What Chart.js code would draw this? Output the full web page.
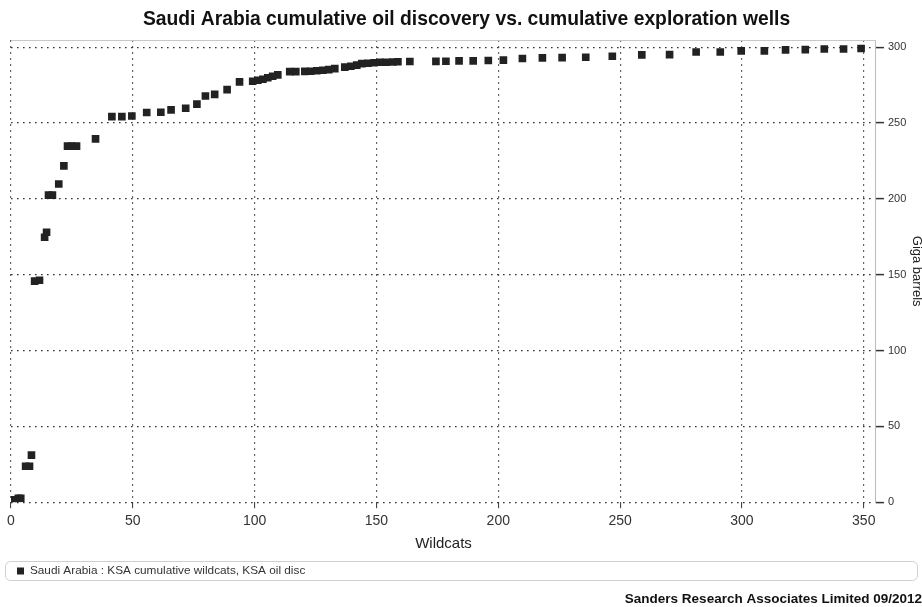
<!DOCTYPE html>
<html>
<head>
<meta charset="utf-8">
<title>Saudi Arabia cumulative oil discovery</title>
<script src="https://cdn.jsdelivr.net/npm/chart.js@4/dist/chart.umd.min.js"></script>
<style>
  html, body { margin: 0; padding: 0; background: #fff; }
  #wrap { width: 922px; height: 607px; }
</style>
</head>
<body>
<div id="wrap"><canvas id="chart" width="922" height="607"></canvas></div>
<script>
// Cumulative exploration wells (wildcats) drilled in Saudi Arabia
const wildcats = [
  1, 3, 4, 6, 7.6, 8.4, 9.7, 11.7, 13.8, 14.6,
  15.4, 17.0, 19.6, 21.7, 23.2, 24.9, 26.9, 34.7, 41.4, 45.5,
  49.6, 55.7, 61.5, 65.7, 71.7, 76.3, 79.8, 83.6, 88.7, 93.8,
  99.2, 101.3, 103.4, 105.4, 107.4, 109.5, 114.4, 116.9, 120.6, 123.0,
  125.5, 128.0, 130.4, 132.9, 137.0, 139.5, 141.9, 144.0, 146.5, 149.0,
  151.4, 153.9, 156.7, 158.8, 163.7, 174.4, 178.5, 183.9, 189.7, 195.9,
  202.1, 209.9, 218.1, 226.2, 235.9, 246.8, 258.9, 270.3, 281.2, 291.1,
  299.7, 309.2, 317.9, 326.0, 333.8, 341.7, 348.9
];

// Cumulative oil discovered, giga barrels
const discovered = [
  1.5, 2.5, 2.5, 23.7, 23.7, 31.0, 145.7, 146.3, 174.7, 178.0,
  202.4, 202.4, 209.8, 221.7, 234.7, 234.7, 234.7, 239.5, 254.2, 254.2,
  254.6, 256.9, 257.1, 258.6, 259.7, 262.4, 267.8, 268.9, 272.0, 277.1,
  277.5, 278.2, 278.8, 279.8, 280.8, 281.7, 283.9, 283.9, 284.0, 284.1,
  284.4, 284.8, 285.2, 285.8, 286.8, 287.4, 288.1, 289.1, 289.4, 289.7,
  290.0, 290.0, 290.2, 290.4, 290.5, 290.6, 290.7, 290.9, 290.9, 291.2,
  291.4, 292.5, 292.9, 293.1, 293.3, 294.0, 294.9, 295.1, 296.8, 296.8,
  297.5, 297.5, 298.2, 298.4, 298.8, 298.8, 299.1
];

const xTickValues = [0, 50, 100, 150, 200, 250, 300, 350];
const yTickValues = [0, 50, 100, 150, 200, 250, 300];

const chartTitle = 'Saudi Arabia cumulative oil discovery vs. cumulative exploration wells';
const seriesLabel = 'Saudi Arabia : KSA cumulative wildcats, KSA oil disc';
const xAxisTitle = 'Wildcats';
const yAxisTitle = 'Giga barrels';
const footerText = 'Sanders Research Associates Limited 09/2012';

Chart.defaults.font.family = "'Liberation Sans', Arial, Helvetica, sans-serif";
Chart.defaults.color = '#333';

const points = wildcats.map((x, i) => ({ x: x, y: discovered[i] }));

// Dotted grid pattern shared by both axes
const gridDash = [1.6, 4.4];

// Light frame along the top of the plot area, and a rounded box around the legend
const framePlugin = {
  id: 'frame',
  beforeDatasetsDraw(chart) {
    const { ctx, chartArea } = chart;
    ctx.save();
    ctx.strokeStyle = '#c8c8c8';
    ctx.lineWidth = 1;
    ctx.beginPath();
    ctx.moveTo(chartArea.left, Math.round(chartArea.top) + 0.5);
    ctx.lineTo(chartArea.right, Math.round(chartArea.top) + 0.5);
    ctx.stroke();
    ctx.restore();
  },
  afterDraw(chart) {
    const lg = chart.legend;
    if (!lg || !lg.legendHitBoxes || !lg.legendHitBoxes.length) return;
    const hb = lg.legendHitBoxes[0];
    const ctx = chart.ctx;
    const x = 5.5, w = chart.width - 10;
    const y = Math.round(hb.top - 4) + 0.5, h = Math.round(hb.height + 7);
    ctx.save();
    ctx.strokeStyle = '#cfcfcf';
    ctx.lineWidth = 1;
    ctx.beginPath();
    ctx.roundRect(x, y, w, h, 5);
    ctx.stroke();
    ctx.restore();
  }
};

new Chart(document.getElementById('chart'), {
  type: 'scatter',
  data: {
    datasets: [{
      label: seriesLabel,
      data: points,
      pointStyle: 'rect',
      pointRadius: 5.4,
      pointHoverRadius: 5.4,
      backgroundColor: '#222',
      borderColor: '#222',
      borderWidth: 0
    }]
  },
  options: {
    responsive: false,
    animation: false,
    events: [],
    layout: { padding: { left: 11, right: 0, top: 0, bottom: 0 } },
    plugins: {
      title: {
        display: true,
        text: chartTitle,
        color: '#111',
        font: { size: 19.3, weight: 'bold' },
        padding: { top: 8, bottom: 9 }
      },
      subtitle: {
        display: true,
        position: 'bottom',
        align: 'end',
        text: footerText,
        color: '#111',
        font: { size: 13.5, weight: 'bold' },
        padding: { top: 4, bottom: 0 }
      },
      legend: {
        position: 'bottom',
        align: 'start',
        labels: {
          usePointStyle: true,
          pointStyle: 'rect',
          boxWidth: 7,
          boxHeight: 7,
          padding: 6,
          color: '#333',
          font: { size: 11.8 }
        }
      },
      tooltip: { enabled: false }
    },
    scales: {
      x: {
        type: 'linear',
        min: 0,
        max: 355,
        afterBuildTicks(scale) { scale.ticks = xTickValues.map(v => ({ value: v })); },
        ticks: { color: '#333', font: { size: 14 }, padding: 5 },
        border: { display: false, dash: gridDash },
        grid: {
          color: '#333',
          lineWidth: 1.2,
          drawTicks: true,
          tickLength: 6,
          tickColor: '#333',
          tickWidth: 1,
          tickBorderDash: []
        },
        title: {
          display: true,
          text: xAxisTitle,
          color: '#222',
          font: { size: 15 },
          padding: { top: 0, bottom: 6 }
        }
      },
      y: {
        type: 'linear',
        position: 'right',
        min: 0,
        max: 304.6,
        afterBuildTicks(scale) { scale.ticks = yTickValues.map(v => ({ value: v })); },
        ticks: { color: '#333', font: { size: 11 }, padding: 4 },
        border: { display: true, color: '#bbb', width: 1, dash: gridDash },
        grid: {
          color: '#333',
          lineWidth: 1.2,
          drawTicks: true,
          tickLength: 8,
          tickColor: '#333',
          tickWidth: 1.5,
          tickBorderDash: []
        },
        title: {
          display: true,
          text: yAxisTitle,
          color: '#222',
          font: { size: 13, lineHeight: 0.9 },
          padding: { top: 0, bottom: 0 }
        }
      }
    }
  },
  plugins: [framePlugin]
});
</script>
</body>
</html>
